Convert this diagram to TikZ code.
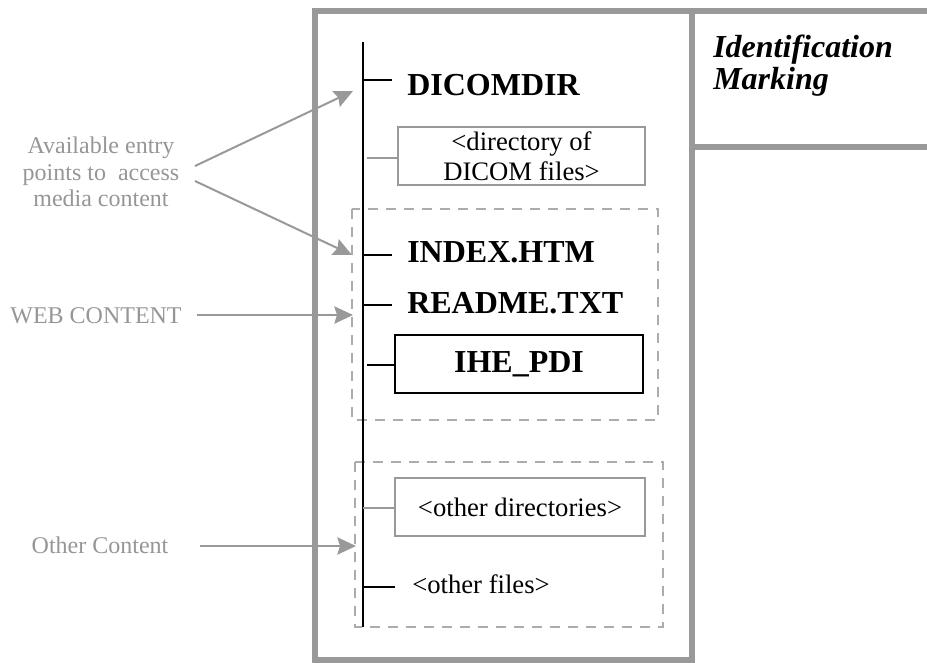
\documentclass[tikz,border=0pt]{standalone}
\usepackage{fontspec}
\setmainfont{Liberation Serif}
\usetikzlibrary{arrows.meta}

\definecolor{framegray}{RGB}{153,153,153}
\definecolor{labelgray}{RGB}{150,150,150}
\definecolor{dashgray}{RGB}{172,172,172}

\newcommand{\markfont}{\fontsize{24}{23.5}\selectfont\bfseries\itshape}

\begin{document}
\begin{tikzpicture}[x = 0.75pt, y = -0.75pt,
	> = {Stealth[length = 14pt, width = 13pt, inset = 2pt]},
	frame/.style = {draw = framegray, line width = 4pt},
	group/.style = {draw = dashgray, line width = 2.2pt, dash pattern = on 7.5pt off 6pt},
	branch/.style = {line width = 1.5pt},
	graybranch/.style = {draw = framegray, line width = 1.3pt},
	hint/.style = {->, draw = framegray, line width = 1.5pt},
	entry/.style = {anchor = base west, inner xsep = 11.25pt, inner ysep = 0pt, font = \fontsize{24}{28}\selectfont\bfseries},
	folder/.style = {draw = framegray, line width = 1.3pt, minimum height = 43.5pt, align = center, font = \fontsize{20}{22.5}\selectfont},
	note/.style = {text = labelgray, align = center, inner sep = 0pt, font = \fontsize{18}{20}\selectfont}]

	\useasboundingbox (0, 0) rectangle (927, 662);

	% Media frame and label area
	
	\draw [frame] (315, 11) rectangle (692, 660);
	\draw [frame] (692, 11) -- (935, 11);
	\draw [frame] (692, 147) -- (935, 147);
	
	\node (ident) [anchor = north west, inner sep = 0pt, align = left, font = \markfont] at (713, 35) {Identification\\Marking};
	
	% Groups
	
	\draw [group] (352, 209) rectangle (658, 420);
	\draw [group] (355, 462) rectangle (663, 627);
	
	% Directory tree
	
	\coordinate (treetop) at (363, 42);
	\coordinate (treebot) at (363, 627);
	\draw [branch] (treetop) -- (treebot);
	
	\node (dicomdir) [entry] at (392, 95) {DICOMDIR};
	\node (dirbox) [folder, minimum width = 185pt] at (521.5, 156) {<directory of\\DICOM files>};
	\node (index) [entry] at (392, 262) {INDEX.HTM};
	\node (readme) [entry] at (392, 313) {README.TXT};
	\node (ihe) [draw, line width = 1.5pt, minimum width = 186pt, minimum height = 43.5pt, font = \fontsize{24}{28}\selectfont\bfseries] at (519, 364) {IHE\_PDI};
	\node (otherdirs) [folder, minimum width = 187.5pt] at (520, 507) {<other directories>};
	\node (otherfiles) [anchor = base west, inner xsep = 12.75pt, inner ysep = 0pt, font = \fontsize{20}{22.5}\selectfont] at (395, 593) {<other files>};
	
	\coordinate (j1) at (363, 80);
	\coordinate (j2) at (367, 158);
	\coordinate (j3) at (363, 255);
	\coordinate (j4) at (363, 305);
	\coordinate (j5) at (367, 365);
	\coordinate (j6) at (363, 508);
	\coordinate (j7) at (363, 587);
	
	\draw [branch] (j1) -- (j1 -| dicomdir.west);
	\draw [graybranch] (j2) -- (j2 -| dirbox.west);
	\draw [branch] (j3) -- (j3 -| index.west);
	\draw [branch] (j4) -- (j4 -| readme.west);
	\draw [branch] (j5) -- (j5 -| ihe.west);
	\draw [graybranch] (j6) -- (j6 -| otherdirs.west);
	\draw [branch] (j7) -- (j7 -| otherfiles.west);
	
	% Notes
	
	\node (entrypoints) [note] at (101, 172) {Available entry\\points to~ access\\media content};
	\node (web) [note, anchor = base] at (96, 323) {WEB CONTENT};
	\node (other) [note, anchor = base] at (100, 553) {Other Content};
	
	\coordinate (e1) at (195, 166);
	\coordinate (e2) at (195, 181);
	\coordinate (w1) at (197, 315);
	\coordinate (o1) at (200, 546);
	\coordinate (dicomtip) at (353, 91);
	\coordinate (indextip) at (352, 255);
	\coordinate (webtip) at (353, 315);
	\coordinate (othertip) at (356, 546);
	
	\draw [hint] (e1) -- (dicomtip);
	\draw [hint] (e2) -- (indextip);
	\draw [hint] (w1) -- (webtip);
	\draw [hint] (o1) -- (othertip);

\end{tikzpicture}
\end{document}
